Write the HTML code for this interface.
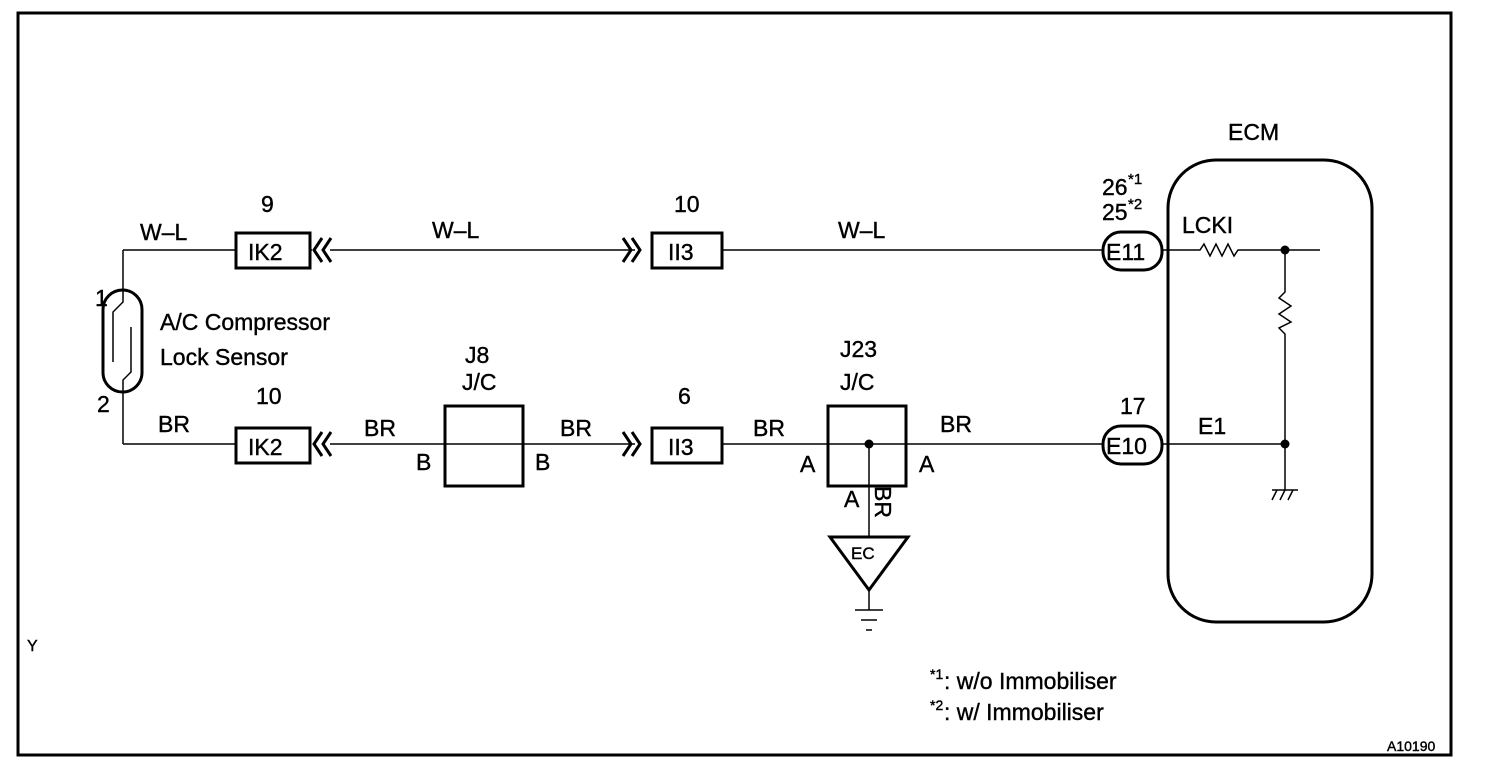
<!DOCTYPE html>
<html><head><meta charset="utf-8"><style>
html,body{margin:0;padding:0;background:#fff;}
svg{display:block;}
text{font-family:"Liberation Sans",Arial,sans-serif;fill:#000;stroke:#000;stroke-width:0.4;}
</style></head><body>
<svg width="1504" height="774" viewBox="0 0 1504 774" xmlns="http://www.w3.org/2000/svg">
<rect x="18" y="13" width="1433" height="742" fill="none" stroke="#000" stroke-width="3"/>
<g stroke="#000" fill="none" stroke-width="1.5">
<path d="M123 250 H236 M310 250 H312"/>
<path d="M330 250 H635"/>
<path d="M722 250 H1104"/>
<path d="M123 444 H236 M330 444 H445 M523 444 H635 M722 444 H828 M906 444 H1104"/>
<path d="M445 444 H523 M828 444 H906"/>
<path d="M123 250 V290 M123 392 V444"/>
<path d="M123 290 V302 L113 312 V362 M131 327 V372 L123 380 V392"/>
<path d="M869 444 V537 M869 590 V610 M855 610 H883 M861 620 H877 M866 630 H872"/>
<path d="M1162 250 H1200 L1204 244 L1210 256 L1216 244 L1222 256 L1228 244 L1234 256 L1238 250 H1320"/>
<path d="M1285 250 V292 L1279 298 L1291 306 L1279 314 L1291 322 L1279 328 L1285 334 V490"/>
<path d="M1162 444 H1285"/>
<path d="M1272 490 H1298 M1277 490 L1272 500 M1285 490 L1280 500 M1293 490 L1288 500"/>
</g>
<g stroke="#000" fill="none" stroke-width="3">
<rect x="103" y="290" width="39" height="102" rx="19.5"/>
<rect x="236" y="233" width="74" height="35"/>
<rect x="652" y="233" width="70" height="35"/>
<rect x="236" y="428" width="74" height="35"/>
<rect x="652" y="428" width="70" height="35"/>
<rect x="445" y="406" width="78" height="80"/>
<rect x="828" y="406" width="78" height="80"/>
<rect x="1103" y="232" width="59" height="38" rx="18"/>
<rect x="1103" y="426" width="59" height="38" rx="18"/>
<rect x="1168" y="160" width="204" height="462" rx="48"/>
<path d="M830 537 H908 L869 590 Z"/>
<path d="M322 238 L314 250 L322 262 M331 238 L323 250 L331 262"/>
<path d="M322 432 L314 444 L322 456 M331 432 L323 444 L331 456"/>
<path d="M623 238 L631 250 L623 262 M632 238 L640 250 L632 262"/>
<path d="M623 432 L631 444 L623 456 M632 432 L640 444 L632 456"/>
</g>
<circle cx="869" cy="444" r="4.5"/>
<circle cx="1285" cy="250" r="4.5"/>
<circle cx="1285" cy="444" r="4.5"/>
<g font-size="23">
<text x="140" y="240">W–L</text>
<text x="261" y="212">9</text>
<text x="432" y="238">W–L</text>
<text x="674" y="212">10</text>
<text x="838" y="238">W–L</text>
<text x="1102" y="195">26</text><text x="1128" y="184" font-size="15">*1</text>
<text x="1102" y="220">25</text><text x="1128" y="209" font-size="15">*2</text>
<text x="1228" y="140">ECM</text>
<text x="1182" y="233">LCKI</text>
<text x="95" y="306">1</text>
<text x="97" y="412">2</text>
<text x="160" y="330">A/C Compressor</text>
<text x="160" y="365">Lock Sensor</text>
<text x="465" y="363">J8</text>
<text x="462" y="390">J/C</text>
<text x="256" y="404">10</text>
<text x="158" y="432">BR</text>
<text x="364" y="436">BR</text>
<text x="416" y="470">B</text>
<text x="535" y="470">B</text>
<text x="560" y="436">BR</text>
<text x="678" y="404">6</text>
<text x="753" y="436">BR</text>
<text x="800" y="472">A</text>
<text x="919" y="472">A</text>
<text x="840" y="357">J23</text>
<text x="840" y="390">J/C</text>
<text x="940" y="432">BR</text>
<text x="844" y="507">A</text>
<text x="0" y="0" transform="translate(875,486) rotate(90)">BR</text>
<text x="1120" y="414">17</text>
<text x="1198" y="434">E1</text>
<text x="248" y="260">IK2</text>
<text x="248" y="455">IK2</text>
<text x="668" y="260">II3</text>
<text x="668" y="455">II3</text>
<text x="1106" y="260">E11</text>
<text x="1106" y="454">E10</text>
<text x="944" y="689">: w/o Immobiliser</text>
<text x="944" y="720">: w/ Immobiliser</text>
</g>
<text x="851" y="559" font-size="17">EC</text>
<text x="930" y="679" font-size="14">*1</text>
<text x="930" y="710" font-size="14">*2</text>
<text x="27" y="651" font-size="16">Y</text>
<text x="1387" y="751" font-size="14">A10190</text>
</svg>
</body></html>
